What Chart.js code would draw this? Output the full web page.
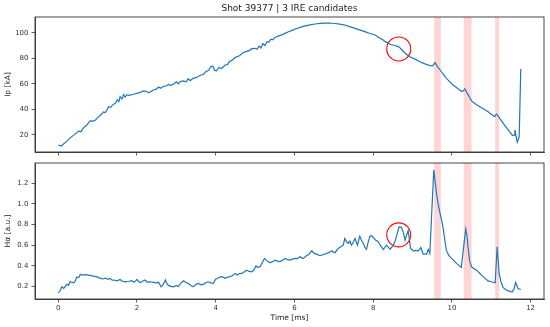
<!DOCTYPE html>
<html>
<head>
<meta charset="utf-8">
<script src="https://cdn.jsdelivr.net/npm/chart.js@4.4.1/dist/chart.umd.min.js"></script>
<style>
html,body{margin:0;padding:0;background:#fff;}
#wrap{position:relative;width:550px;height:327px;overflow:hidden;}
#boxA{position:absolute;left:0;top:0;width:550px;height:160px;}
#boxB{position:absolute;left:0;top:155px;width:550px;height:172px;}
</style>
</head>
<body>
<div id="wrap">
<div id="boxA"><canvas id="cA"></canvas></div>
<div id="boxB"><canvas id="cB"></canvas></div>
</div>
<script>
// ---- data ----
const titleText = "Shot 39377 | 3 IRE candidates";
const xLabel = "Time [ms]";
const ipLabel = "Ip [kA]";
const haLabel = "Hα [a.u.]";
const xTicks = [0, 2, 4, 6, 8, 10, 12];
const ipTicks = [20, 40, 60, 80, 100];
const haTicks = [0.2, 0.4, 0.6, 0.8, 1.0, 1.2];

const tIp = [0,0.07,0.12,0.2,0.3,0.4,0.52,0.58,0.64,0.72,0.81,0.88,0.94,1.0,1.08,1.15,1.2,1.28,1.33,1.4,1.45,1.5,1.54,1.57,1.62,1.66,1.7,1.74,1.8,1.91,2.0,2.1,2.17,2.25,2.3,2.42,2.5,2.55,2.6,2.67,2.75,2.8,2.85,2.93,3.0,3.05,3.1,3.18,3.25,3.3,3.35,3.43,3.5,3.6,3.69,3.75,3.82,3.88,3.93,3.97,4.02,4.08,4.15,4.24,4.3,4.35,4.42,4.49,4.6,4.7,4.75,4.85,4.92,5.0,5.05,5.1,5.15,5.2,5.25,5.3,5.35,5.4,5.45,5.51,5.6,5.7,5.76,5.85,5.95,6.02,6.15,6.27,6.4,6.52,6.65,6.78,6.9,7.03,7.15,7.28,7.4,7.54,7.65,7.79,7.9,8.05,8.15,8.22,8.3,8.43,8.55,8.64,8.7,8.76,8.85,8.93,9.05,9.19,9.3,9.44,9.5,9.53,9.57,9.62,9.7,9.78,9.86,9.95,10.03,10.15,10.25,10.29,10.33,10.4,10.5,10.6,10.71,10.82,10.92,11.0,11.09,11.13,11.18,11.3,11.43,11.54,11.58,11.6,11.63,11.66,11.71,11.75];
const ip = [12.0,11.2,12.5,14.5,17.5,20.0,23.0,22.5,25.5,27.5,31.0,30.8,31.5,33.5,35.5,38.0,37.5,42.0,41.5,44.0,44.5,47.5,46.0,50.0,48.0,51.5,49.5,51.5,51.0,51.8,52.5,53.5,54.4,54.0,53.0,55.2,56.0,57.5,56.5,57.8,58.5,59.5,58.8,59.6,61.5,60.0,61.8,62.2,61.5,64.0,62.5,64.3,64.8,66.5,67.5,69.5,70.5,73.5,73.8,70.5,70.2,72.8,72.0,74.7,75.0,77.5,78.5,80.5,82.0,84.5,85.0,86.0,87.5,87.8,87.0,89.5,88.0,91.5,90.0,93.0,92.5,95.0,94.5,96.3,97.5,98.5,99.5,100.8,102.0,102.9,104.2,105.3,106.2,106.8,107.3,107.5,107.6,107.2,106.7,106.0,104.8,103.4,102.2,100.8,99.6,98.2,96.0,95.0,93.2,91.0,90.0,89.1,87.6,85.7,83.0,81.2,79.5,77.3,75.8,74.2,74.0,74.7,76.5,74.0,70.8,67.5,64.3,61.5,59.1,56.3,53.9,54.5,56.0,52.0,46.6,44.2,42.1,40.0,38.2,36.2,34.3,36.4,34.5,29.2,23.9,19.5,19.8,23.9,19.0,14.3,18.7,71.6];

const tHa = [0,0.05,0.09,0.14,0.22,0.26,0.3,0.39,0.43,0.47,0.52,0.56,0.64,0.7,0.77,0.84,0.9,1.0,1.07,1.13,1.2,1.26,1.32,1.37,1.41,1.5,1.57,1.63,1.7,1.8,1.87,1.93,2.0,2.04,2.08,2.14,2.2,2.27,2.33,2.42,2.5,2.55,2.61,2.67,2.72,2.76,2.8,2.86,2.93,3.0,3.05,3.1,3.18,3.24,3.3,3.37,3.43,3.5,3.56,3.62,3.69,3.75,3.81,3.87,3.94,4.0,4.05,4.11,4.16,4.24,4.3,4.37,4.43,4.49,4.55,4.6,4.66,4.72,4.79,4.85,4.92,4.97,5.02,5.08,5.13,5.18,5.24,5.3,5.38,5.44,5.51,5.57,5.63,5.7,5.76,5.82,5.89,5.95,6.02,6.08,6.14,6.2,6.23,6.31,6.37,6.44,6.5,6.57,6.63,6.69,6.75,6.82,6.88,6.95,7.0,7.03,7.11,7.2,7.24,7.28,7.33,7.37,7.41,7.45,7.5,7.54,7.6,7.66,7.7,7.75,7.79,7.83,7.88,7.92,7.97,8.0,8.06,8.13,8.18,8.22,8.26,8.3,8.34,8.43,8.51,8.55,8.6,8.66,8.72,8.77,8.81,8.85,8.89,8.95,9.02,9.08,9.15,9.21,9.27,9.36,9.4,9.44,9.48,9.54,9.58,9.61,9.65,9.7,9.74,9.78,9.82,9.86,9.92,9.99,10.05,10.12,10.2,10.24,10.29,10.35,10.38,10.41,10.45,10.5,10.57,10.63,10.7,10.75,10.82,10.92,11.0,11.1,11.15,11.2,11.25,11.3,11.36,11.43,11.5,11.54,11.58,11.62,11.66,11.68,11.75];
const ha = [0.138,0.16,0.196,0.18,0.22,0.21,0.245,0.235,0.25,0.29,0.285,0.316,0.31,0.315,0.31,0.305,0.3,0.29,0.278,0.272,0.28,0.268,0.278,0.26,0.262,0.255,0.268,0.25,0.245,0.25,0.255,0.24,0.268,0.25,0.235,0.25,0.262,0.24,0.245,0.24,0.235,0.24,0.196,0.22,0.262,0.23,0.21,0.2,0.196,0.21,0.2,0.225,0.255,0.24,0.23,0.21,0.196,0.22,0.23,0.215,0.22,0.235,0.245,0.235,0.23,0.27,0.28,0.29,0.295,0.278,0.29,0.295,0.305,0.326,0.31,0.325,0.326,0.34,0.358,0.345,0.342,0.36,0.397,0.385,0.39,0.43,0.472,0.45,0.43,0.44,0.455,0.445,0.44,0.455,0.472,0.46,0.455,0.465,0.472,0.47,0.487,0.475,0.472,0.5,0.51,0.546,0.52,0.513,0.5,0.503,0.51,0.52,0.53,0.546,0.53,0.527,0.568,0.59,0.6,0.666,0.63,0.617,0.64,0.6,0.63,0.666,0.6,0.688,0.65,0.617,0.58,0.559,0.64,0.688,0.69,0.675,0.65,0.633,0.6,0.578,0.559,0.58,0.6,0.559,0.6,0.63,0.698,0.779,0.773,0.72,0.65,0.7,0.74,0.569,0.546,0.55,0.546,0.578,0.514,0.514,0.559,0.52,0.844,1.33,1.2,1.1,1.0,0.909,0.84,0.763,0.65,0.552,0.5,0.472,0.45,0.423,0.397,0.385,0.552,0.756,0.7,0.585,0.45,0.39,0.37,0.358,0.33,0.31,0.285,0.254,0.245,0.235,0.585,0.326,0.24,0.19,0.17,0.157,0.15,0.148,0.18,0.239,0.2,0.18,0.17];

// IRE candidate windows [start, end] in ms
const ireStart = [9.55, 10.3, 11.1];
const ireEnd = [9.72, 10.5, 11.2];
// highlighted event (circle) position
const markT = 8.65;
const markIp = 87.3;
const markHa = 0.70;

// ---- styles ----
const FONT = "'DejaVu Sans', sans-serif";
const LINE = '#1f77b4';
const AXC = '#333333';

function pts(xs, ys) { return xs.map((x, i) => ({ x: x, y: ys[i] })); }

const decor = (markY) => ({
  id: 'decor',
  beforeDatasetsDraw(chart) {
    const { ctx, chartArea: a, scales: { x } } = chart;
    ctx.save();
    ctx.fillStyle = 'rgba(255,0,0,0.17)';
    for (let i = 0; i < ireStart.length; i++) {
      const x0 = x.getPixelForValue(ireStart[i]);
      const x1 = x.getPixelForValue(ireEnd[i]);
      ctx.fillRect(x0, a.top, x1 - x0, a.bottom - a.top);
    }
    ctx.restore();
  },
  afterDatasetsDraw(chart) {
    const { ctx, chartArea: a, scales: { x, y } } = chart;
    ctx.save();
    ctx.strokeStyle = '#ff0000';
    ctx.lineWidth = 1.1;
    ctx.beginPath();
    ctx.arc(x.getPixelForValue(markT), y.getPixelForValue(markY), 12, 0, Math.PI * 2);
    ctx.stroke();
    ctx.strokeStyle = AXC;
    ctx.lineWidth = 0.9;
    ctx.strokeRect(a.left, a.top, a.right - a.left, a.bottom - a.top);
    ctx.restore();
  }
});

const titlePlugin = {
  id: 'ttl',
  afterDraw(chart) {
    const { ctx, chartArea: a } = chart;
    ctx.save();
    ctx.fillStyle = '#222';
    ctx.font = "9px " + FONT;
    ctx.textAlign = 'center';
    ctx.textBaseline = 'middle';
    ctx.fillText(titleText, (a.left + a.right) / 2, 9);
    ctx.restore();
  }
};

function xScale(showLabels, h) {
  return {
    type: 'linear', min: -0.59, max: 12.34,
    afterBuildTicks: (s) => { s.ticks = xTicks.map(v => ({ value: v })); },
    afterFit: (s) => { s.height = h; },
    grid: { drawOnChartArea: false, drawTicks: true, tickLength: 3.5, color: AXC, lineWidth: 0.8 },
    border: { display: true, color: AXC, width: 0.9 },
    ticks: { display: showLabels, color: '#333', font: { family: FONT, size: 7 }, padding: 1.5, maxRotation: 0 },
    title: showLabels ? { display: true, text: xLabel, color: '#222', font: { family: FONT, size: 7.5 }, padding: { top: 0, bottom: 4 } } : { display: false }
  };
}

function yScale(min, max, tickVals, label, fmt) {
  return {
    type: 'linear', min: min, max: max,
    afterBuildTicks: (s) => { s.ticks = tickVals.map(v => ({ value: v })); },
    afterFit: (s) => { s.width = 35; },
    grid: { drawOnChartArea: false, drawTicks: true, tickLength: 3.5, color: AXC, lineWidth: 0.8 },
    border: { display: true, color: AXC, width: 0.9 },
    ticks: { color: '#333', font: { family: FONT, size: 7 }, padding: 3, callback: fmt },
    title: { display: true, text: label, color: '#222', font: { family: FONT, size: 7.5 }, padding: { top: 3.5, bottom: 0 } }
  };
}

const common = {
  responsive: true, maintainAspectRatio: false, animation: false,
  plugins: { legend: { display: false }, tooltip: { enabled: false }, title: { display: false } },
  elements: { point: { radius: 0 }, line: { tension: 0 } }
};

new Chart(document.getElementById('cA'), {
  type: 'line',
  data: { datasets: [{ data: pts(tIp, ip), borderColor: LINE, borderWidth: 1.2, fill: false }] },
  options: Object.assign({}, common, {
    parsing: false,
    layout: { padding: { top: 17, right: 6, left: 0, bottom: 0 } },
    scales: {
      x: xScale(false, 8),
      y: yScale(6.6, 112.3, ipTicks, ipLabel, (v) => String(v))
    }
  }),
  plugins: [decor(markIp), titlePlugin]
});

new Chart(document.getElementById('cB'), {
  type: 'line',
  data: { datasets: [{ data: pts(tHa, ha), borderColor: LINE, borderWidth: 1.2, fill: false }] },
  options: Object.assign({}, common, {
    parsing: false,
    layout: { padding: { top: 8, right: 6, left: 0, bottom: 0 } },
    scales: {
      x: xScale(true, 28),
      y: yScale(0.078, 1.397, haTicks, haLabel, (v) => Number(v).toFixed(1))
    }
  }),
  plugins: [decor(markHa)]
});
</script>
</body>
</html>
